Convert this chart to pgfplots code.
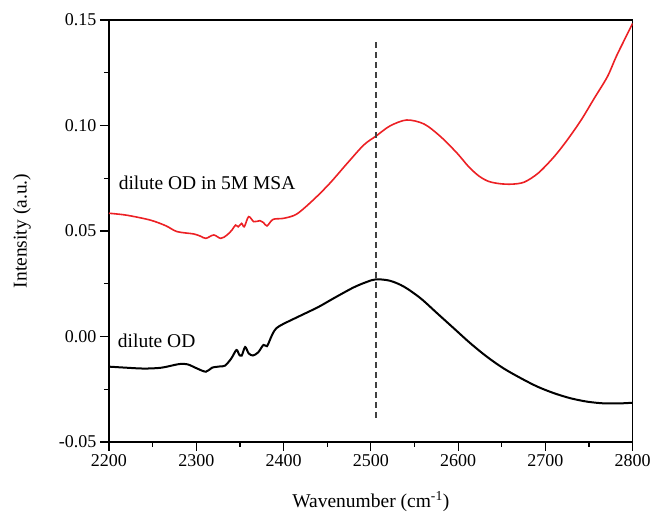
\documentclass[border=0pt]{standalone}
\usepackage{fontspec}
\setmainfont{Liberation Serif}
\usepackage{pgfplots}
\pgfplotsset{compat=1.18}
\definecolor{myred}{RGB}{236,32,36}
\begin{document}
\begin{tikzpicture}
\begin{axis}[
  scale only axis, width=523.7pt, height=422pt,
  xmin=2200, xmax=2800, ymin=-0.05, ymax=0.15,
  xtick={2200,2300,...,2800},
  ytick={-0.05,0,0.05,0.1,0.15},
  minor x tick num=1, minor y tick num=1,
  xtick pos=bottom, ytick pos=left,
  tick align=outside,
  major tick length=9pt, minor tick length=5pt,
  every tick/.append style={black, line width=1.2pt},
  axis line style={line width=1.2pt},
  xticklabel style={/pgf/number format/assume math mode=true, /pgf/number format/1000 sep={}, font=\fontsize{18}{20}\selectfont},
  yticklabel style={/pgf/number format/assume math mode=true, /pgf/number format/fixed, /pgf/number format/fixed zerofill, /pgf/number format/precision=2, font=\fontsize{18}{20}\selectfont},
  scaled y ticks=false,
  xlabel={Wavenumber (cm\textsuperscript{-1})},
  ylabel={Intensity (a.u.)},
  every axis x label/.style={at={(axis description cs:0.5,-0.1564)}, anchor=base, font=\fontsize{19.5}{22}\selectfont},
  every axis y label/.style={at={(axis description cs:-0.166,0.5)}, rotate=90, anchor=center, font=\fontsize{19.5}{22}\selectfont},
]
\addplot[black, line width=2pt, smooth, tension=0.5] coordinates {
(2200,-0.0143) (2220,-0.0148) (2240,-0.0152) (2260,-0.0148) (2280,-0.0131)
(2290,-0.0132) (2300,-0.0150) (2311,-0.0167) (2318,-0.0148) (2327,-0.0142)
(2333,-0.0138) (2340,-0.0105) (2346,-0.0064) (2349,-0.0085) (2352,-0.0091)
(2356,-0.0050) (2360,-0.0080) (2365,-0.0090) (2371,-0.0075) (2377,-0.0040)
(2381,-0.0046) (2385,-0.0010) (2388,0.0017) (2392,0.0040) (2400,0.0060)
(2419,0.0098) (2440,0.0140) (2457,0.0180) (2480,0.0232) (2495,0.0258) (2506,0.0271)
(2522,0.0264) (2538,0.0236) (2557,0.0181) (2576,0.0110) (2595,0.0039)
(2614,-0.0032) (2633,-0.0096) (2652,-0.0151) (2672,-0.0198) (2691,-0.0238)
(2710,-0.0269) (2729,-0.0293) (2748,-0.0309) (2767,-0.0317) (2786,-0.0317)
(2800,-0.0314)
};
\addplot[myred, line width=1.6pt, smooth, tension=0.5] coordinates {
(2200,0.0584) (2220,0.0575) (2247,0.0552) (2265,0.0525) (2278,0.0497)
(2297,0.0486) (2305,0.0475) (2311,0.0465) (2320,0.0481) (2328,0.0465)
(2335,0.0480) (2341,0.0505) (2345,0.0528) (2348,0.0520) (2352,0.0536)
(2355,0.0520) (2360,0.0568) (2366,0.0544) (2373,0.0549) (2377,0.0540)
(2381,0.0524) (2388,0.0555) (2400,0.0560) (2415,0.0580) (2434,0.0647)
(2453,0.0726) (2473,0.0821) (2492,0.0908) (2506,0.0950) (2522,0.0998)
(2541,0.1026) (2561,0.1007) (2580,0.0947) (2599,0.0868) (2612,0.0805)
(2624,0.0760) (2635,0.0735) (2648,0.0724) (2662,0.0722) (2676,0.0732)
(2692,0.0775) (2710,0.0852) (2725,0.0931) (2741,0.1026) (2756,0.1129)
(2771,0.1231) (2782,0.1334) (2800,0.1484)
};
\addplot[black!75, line width=1.3pt, dash pattern=on 6pt off 4pt] coordinates {(2506,-0.0386) (2506,0.1409)};
\node[anchor=base west, inner sep=0pt, font=\fontsize{19.5}{22}\selectfont] at (axis cs:2211,0.0698) {dilute OD in 5M MSA};
\node[anchor=base west, inner sep=0pt, font=\fontsize{19.5}{22}\selectfont] at (axis cs:2210,-0.0053) {dilute OD};
\end{axis}
\path (-109pt,-70pt) rectangle (545pt,442pt);
\end{tikzpicture}
\end{document}
